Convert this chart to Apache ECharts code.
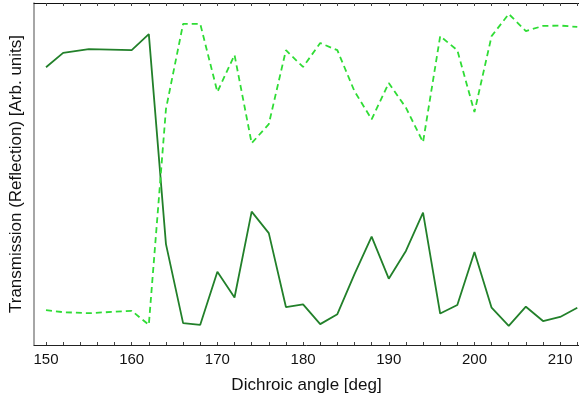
<!DOCTYPE html>
<html>
<head>
<meta charset="utf-8">
<script src="https://cdn.jsdelivr.net/npm/echarts@6/dist/echarts.min.js"></script>
<style>
  html, body { margin: 0; padding: 0; background: #fff; }
  #main { width: 579px; height: 399px; }
</style>
</head>
<body>
<div id="main"></div>
<script>
// angles [deg]
const angles = [150, 152, 155, 160, 162, 164, 166, 168, 170, 172, 174, 176, 178, 180, 182, 184,
  186, 188, 190, 192, 194, 196, 198, 200, 202, 204, 206, 208, 210, 212];
// transmission (solid, dark green), arb. units
const transmission = [81.2, 85.4, 86.5, 86.2, 90.9, 29.5, 6.4, 5.9, 21.4, 13.9, 39.0, 32.7, 11.1, 11.9, 6.1, 9.0,
  20.7, 31.7, 19.4, 27.5, 38.7, 9.2, 11.7, 27.2, 10.9, 5.6, 11.2, 7.0, 8.2, 10.9];
// reflection (dashed, light green), arb. units
const reflection = [10.2, 9.6, 9.3, 10.0, 5.9, 69.0, 93.9, 93.9, 74.0, 84.8, 59.0, 64.6, 86.2, 81.3, 88.3, 86.2,
  74.2, 66.0, 76.6, 69.4, 59.3, 90.3, 86.2, 68.1, 90.3, 96.8, 91.8, 93.3, 93.4, 93.0];
const tickValues = [150, 152, 154, 156, 158, 160, 162, 164, 166, 168, 170, 172, 174, 176, 178, 180,
  182, 184, 186, 188, 190, 192, 194, 196, 198, 200, 202, 204, 206, 208, 210, 212];
const labelValues = [150, 160, 170, 180, 190, 200, 210];

const chart = echarts.init(document.getElementById('main'));

const pairs = (ys) => angles.map((a, i) => [a, ys[i]]);

chart.setOption({
  animation: false,
  grid: { left: 34, right: 0, top: 3, bottom: 53 },
  xAxis: [
    {
      type: 'value',
      min: 148.6,
      max: 212.2,
      name: 'Dichroic angle [deg]',
      nameLocation: 'middle',
      nameGap: 32,
      nameTextStyle: { fontFamily: 'Liberation Sans', fontSize: 17, color: '#111' },
      axisLine: { show: true, lineStyle: { color: '#222', width: 1 } },
      axisTick: { show: true, inside: true, length: 3, customValues: tickValues, lineStyle: { color: '#444' } },
      axisLabel: { customValues: labelValues, fontFamily: 'Liberation Sans', fontSize: 15, color: '#111', margin: 7 },
      splitLine: { show: false }
    },
    {
      type: 'value',
      position: 'top',
      min: 148.6,
      max: 212.2,
      axisLine: { show: true, lineStyle: { color: '#111', width: 1 } },
      axisTick: { show: true, inside: true, length: 3, customValues: tickValues, lineStyle: { color: '#444' } },
      axisLabel: { show: false },
      splitLine: { show: false }
    }
  ],
  yAxis: {
    type: 'value',
    min: 0,
    max: 100,
    name: 'Transmission (Reflection) [Arb. units]',
    nameLocation: 'middle',
    nameGap: 9,
    nameTextStyle: { fontFamily: 'Liberation Sans', fontSize: 17, color: '#111' },
    axisLine: { show: true, lineStyle: { color: '#888', width: 1.5 } },
    axisTick: { show: false },
    axisLabel: { show: false },
    splitLine: { show: false }
  },
  series: [
    {
      name: 'Transmission',
      type: 'line',
      data: pairs(transmission),
      showSymbol: false,
      lineStyle: { color: '#22802a', width: 1.8 }
    },
    {
      name: 'Reflection',
      type: 'line',
      data: pairs(reflection),
      showSymbol: false,
      lineStyle: { color: '#2fdc35', width: 1.8, type: [6, 4] }
    }
  ]
});
</script>
</body>
</html>
